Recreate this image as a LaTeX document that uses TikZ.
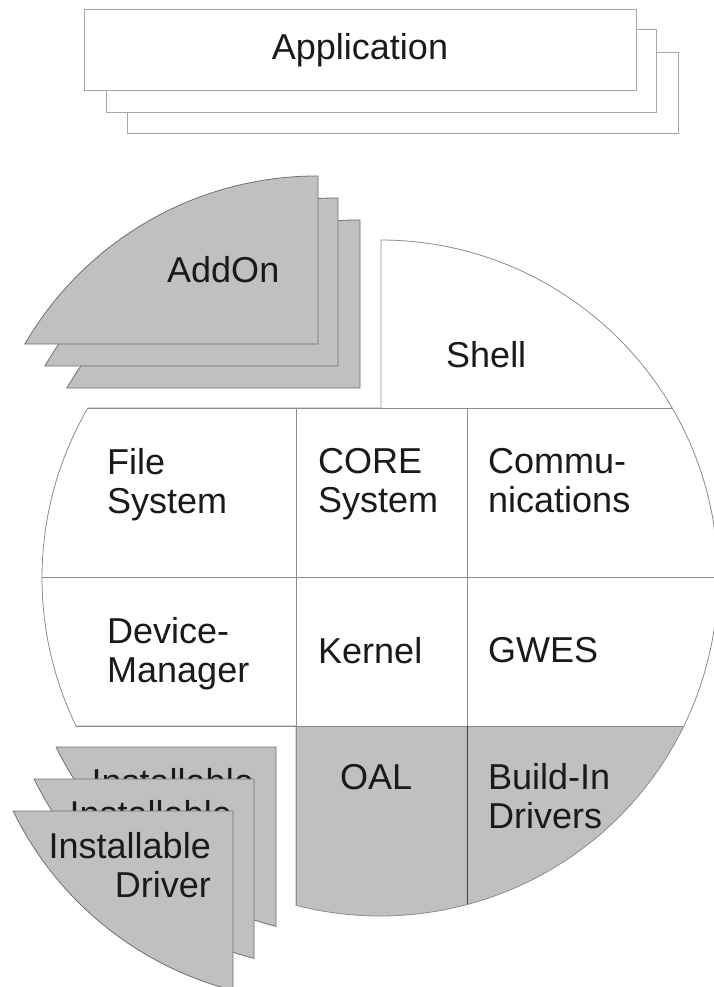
\documentclass[tikz,border=0pt]{standalone}
\usepackage{fontspec}
\setmainfont{Liberation Sans}
\definecolor{linegray}{HTML}{8C8C8C}
\definecolor{boxgray}{HTML}{A8A8A8}
\definecolor{piecegray}{HTML}{C0C0C0}
\definecolor{edgegray}{HTML}{707070}
\definecolor{darkline}{HTML}{404040}
\definecolor{txt}{HTML}{1A1A1A}
\begin{document}
\begin{tikzpicture}[x=1pt,y=1pt]
\tikzset{
  cellline/.style={draw=linegray, line width=0.8pt},
  piece/.style={fill=piecegray, draw=edgegray, line width=0.8pt},
  appbox/.style={fill=white, draw=boxgray, line width=0.9pt},
  lbl/.style={inner sep=0pt, font=\fontsize{36}{39.5}\selectfont, text=txt},
}
\useasboundingbox (0,0) rectangle (714,-987);

% Application stack
\draw[appbox] (127,-52) rectangle (678,-133);
\draw[appbox] (106,-29) rectangle (656,-112);
\draw[appbox] (84,-9) rectangle (636,-90);
\node[lbl, anchor=base] (app) at (360,-60) {Application};

% AddOn stack (missing upper-left slice of the circle, shifted)
\foreach \dx/\dy in {-21/20, -43/42} {
  \begin{scope}[shift={(\dx,\dy)}]
    \draw[piece] (381,-408) -- (87.87,-408) arc[start angle=149.81, end angle=89.83, radius=338] -- cycle;
  \end{scope}
}
\begin{scope}[shift={(-63,64)}]
  \draw[piece] (381,-408) -- (87.87,-408) arc[start angle=149.81, end angle=89.83, radius=338] -- cycle;
  \node[lbl, anchor=base west] (addon) at (230,-346) {AddOn};
\end{scope}

% Main circle body
\fill[white] (381,-240) arc[start angle=89.83, end angle=-104.39, radius=338]
  -- (296,-726) -- (76.13,-726) arc[start angle=205.97, end angle=149.81, radius=338]
  -- (381,-408) -- cycle;
\fill[piecegray] (296,-726) -- (296,-905.4) arc[start angle=-104.39, end angle=-25.97, radius=338] -- cycle;
\draw[cellline] (87.87,-408) -- (672.13,-408);
\draw[cellline] (42,-577) -- (718,-577);
\draw[cellline] (76.13,-726) -- (683.87,-726);
\draw[cellline] (296,-408) -- (296,-905.4);
\draw[cellline] (467,-408) -- (467,-726);
\draw[draw=darkline, line width=0.8pt] (467,-726) -- (467,-904.6);
\draw[cellline] (381,-240) arc[start angle=89.83, end angle=-104.39, radius=338]
  -- (296,-726) -- (76.13,-726) arc[start angle=205.97, end angle=149.81, radius=338]
  -- (381,-408) -- cycle;

% Installable driver stack (missing lower-left slice, shifted)
\foreach \dx/\dy/\nm in {-20/-21/inst3, -42/-53/inst2, -63/-85/inst1} {
  \begin{scope}[shift={(\dx,\dy)}]
    \draw[piece] (296,-726) -- (76.13,-726) arc[start angle=205.97, end angle=255.61, radius=338] -- cycle;
    \node[lbl, anchor=north east, align=right] (\nm) at (274,-747) {Installable\\Driver};
  \end{scope}
}

% Labels
\node[lbl, anchor=base west] (shell) at (446,-367) {Shell};
\node[lbl, anchor=north west, align=left] (filesys) at (107,-448) {File\\System};
\node[lbl, anchor=north west, align=left] (core) at (318,-448) {CORE\\System};
\node[lbl, anchor=north west, align=left] (comm) at (488,-448) {Commu-\\nications};
\node[lbl, anchor=north west, align=left] (devmgr) at (107,-617) {Device-\\Manager};
\node[lbl, anchor=base west] (kernel) at (318,-663) {Kernel};
\node[lbl, anchor=base west] (gwes) at (488,-662) {GWES};
\node[lbl, anchor=base west] (oal) at (340,-789) {OAL};
\node[lbl, anchor=north west, align=left] (builtin) at (488,-763) {Build-In\\Drivers};
\end{tikzpicture}
\end{document}
